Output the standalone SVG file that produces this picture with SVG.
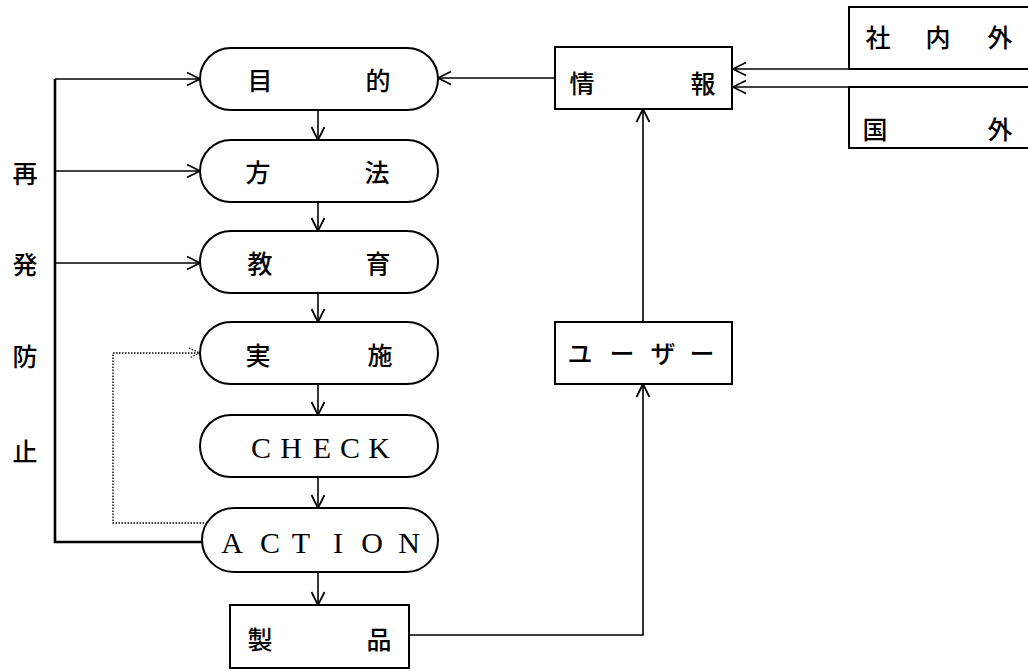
<svg xmlns="http://www.w3.org/2000/svg" width="1028" height="671" viewBox="0 0 1028 671">
  <defs>
    <marker id="arr" markerUnits="userSpaceOnUse" markerWidth="16" markerHeight="16" viewBox="-14 -8 16 16" refX="0" refY="0" orient="auto">
      <path d="M-13,-6.5 L0,0 L-13,6.5" fill="none" stroke="#000" stroke-width="1.7"/>
    </marker>
    <marker id="arrDot" markerUnits="userSpaceOnUse" markerWidth="16" markerHeight="16" viewBox="-14 -8 16 16" refX="0" refY="0" orient="auto">
      <path d="M-11,-5 L0,0 L-11,5" fill="none" stroke="#000" stroke-width="1.2" stroke-dasharray="1.5 1.5"/>
    </marker>
  </defs>
  <style>
    .pill, .box { fill: #fff; stroke: #000; stroke-width: 2; }
    .ln { fill: none; stroke: #000; stroke-width: 1.6; }
    .thick { fill: none; stroke: #000; stroke-width: 2.6; }
    .dot { fill: none; stroke: #000; stroke-width: 1.4; stroke-dasharray: 1.5 1.5; }
    .jp { font-family: "Noto Sans CJK JP", sans-serif; font-size: 25px; font-weight: 500; fill: #000; dominant-baseline: central; text-anchor: middle; }
    .lat { font-family: "Liberation Serif", serif; font-size: 30px; fill: #000; dominant-baseline: central; text-anchor: middle; }
  </style>
  <rect width="1028" height="671" fill="#fff"/>

  <!-- connectors -->
  <g id="connectors">
    <!-- main flow -->
    <line class="ln" x1="318" y1="110" x2="318" y2="140" marker-end="url(#arr)"/>
    <line class="ln" x1="318" y1="202" x2="318" y2="231" marker-end="url(#arr)"/>
    <line class="ln" x1="318" y1="293" x2="318" y2="322" marker-end="url(#arr)"/>
    <line class="ln" x1="318" y1="384" x2="318" y2="415" marker-end="url(#arr)"/>
    <line class="ln" x1="318" y1="477" x2="318" y2="508" marker-end="url(#arr)"/>
    <line class="ln" x1="318" y1="572" x2="318" y2="605" marker-end="url(#arr)"/>
    <!-- recurrence-prevention feedback loop -->
    <polyline class="thick" points="202,542 55,542 55,79"/>
    <line class="ln" x1="55" y1="79" x2="200" y2="79" marker-end="url(#arr)"/>
    <line class="ln" x1="55" y1="171" x2="200" y2="171" marker-end="url(#arr)"/>
    <line class="ln" x1="55" y1="263" x2="200" y2="263" marker-end="url(#arr)"/>
    <!-- dotted return to 実施 -->
    <polyline class="dot" points="204,523 113,523 113,353 200,353" marker-end="url(#arrDot)"/>
    <!-- information feed -->
    <line class="ln" x1="555" y1="78" x2="438" y2="78" marker-end="url(#arr)"/>
    <line class="ln" x1="849" y1="69" x2="733" y2="69" marker-end="url(#arr)"/>
    <line class="ln" x1="849" y1="87" x2="733" y2="87" marker-end="url(#arr)"/>
    <polyline class="ln" points="409,635 643,635 643,384" marker-end="url(#arr)"/>
    <line class="ln" x1="643" y1="322" x2="643" y2="109" marker-end="url(#arr)"/>
  </g>

  <!-- side label -->
  <g id="side-label">
    <text class="jp" x="25" y="172">再</text>
    <text class="jp" x="25" y="263">発</text>
    <text class="jp" x="25" y="355">防</text>
    <text class="jp" x="25" y="450">止</text>
  </g>

  <!-- flow nodes -->
  <g id="node-mokuteki">
    <rect class="pill" x="200" y="48" width="238" height="62" rx="31"/>
    <text class="jp" x="260" y="79">目</text>
    <text class="jp" x="378" y="79">的</text>
  </g>
  <g id="node-houhou">
    <rect class="pill" x="200" y="140" width="238" height="62" rx="31"/>
    <text class="jp" x="258" y="171">方</text>
    <text class="jp" x="377" y="171">法</text>
  </g>
  <g id="node-kyouiku">
    <rect class="pill" x="200" y="231" width="238" height="62" rx="31"/>
    <text class="jp" x="260" y="262">教</text>
    <text class="jp" x="378" y="262">育</text>
  </g>
  <g id="node-jisshi">
    <rect class="pill" x="200" y="322" width="238" height="62" rx="31"/>
    <text class="jp" x="258" y="354">実</text>
    <text class="jp" x="380" y="354">施</text>
  </g>
  <g id="node-check">
    <rect class="pill" x="200" y="415" width="238" height="62" rx="31"/>
    <text class="lat" x="261" y="447">C</text>
    <text class="lat" x="291" y="447">H</text>
    <text class="lat" x="322" y="447">E</text>
    <text class="lat" x="350" y="447">C</text>
    <text class="lat" x="379" y="447">K</text>
  </g>
  <g id="node-action">
    <rect class="pill" x="202" y="508" width="236" height="64" rx="32"/>
    <text class="lat" x="232" y="542">A</text>
    <text class="lat" x="270" y="542">C</text>
    <text class="lat" x="301" y="542">T</text>
    <text class="lat" x="338" y="542">I</text>
    <text class="lat" x="372" y="542">O</text>
    <text class="lat" x="409" y="542">N</text>
  </g>
  <g id="node-seihin">
    <rect class="box" x="230" y="605" width="179" height="63"/>
    <text class="jp" x="260" y="638">製</text>
    <text class="jp" x="379" y="638">品</text>
  </g>

  <!-- information side -->
  <g id="node-jouhou">
    <rect class="box" x="555" y="47" width="177" height="62"/>
    <text class="jp" x="582" y="82">情</text>
    <text class="jp" x="703" y="82">報</text>
  </g>
  <g id="node-user">
    <rect class="box" x="555" y="322" width="177" height="62"/>
    <text class="jp" x="580" y="352">ユ</text>
    <text class="jp" x="622" y="352">ー</text>
    <text class="jp" x="663" y="352">ザ</text>
    <text class="jp" x="702" y="352">ー</text>
  </g>
  <g id="node-shanaigai">
    <rect class="box" x="849" y="7" width="185" height="62"/>
    <text class="jp" x="878" y="36">社</text>
    <text class="jp" x="938" y="36">内</text>
    <text class="jp" x="1000" y="36">外</text>
  </g>
  <g id="node-kokugai">
    <rect class="box" x="849" y="87" width="185" height="61"/>
    <text class="jp" x="875" y="128">国</text>
    <text class="jp" x="1000" y="128">外</text>
  </g>
</svg>
